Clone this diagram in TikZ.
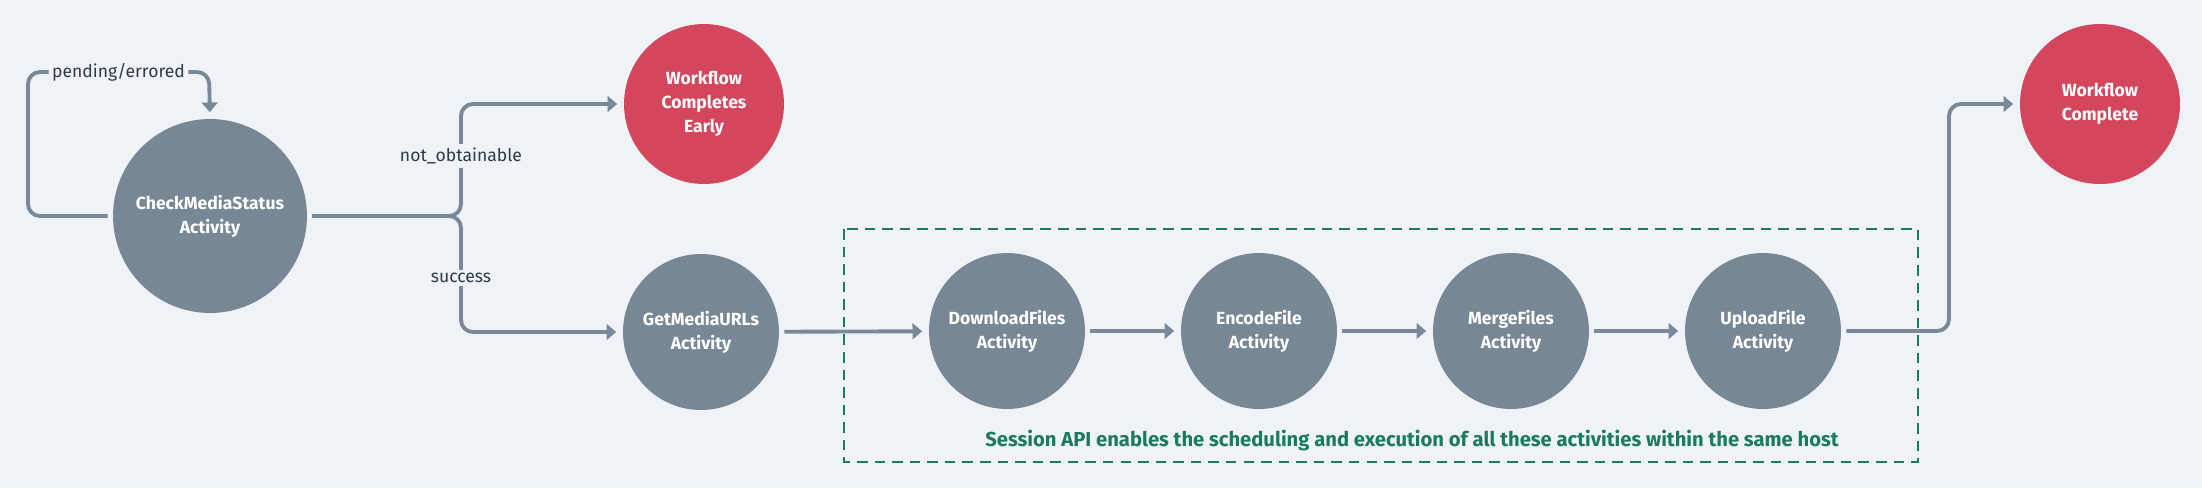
\documentclass[tikz,border=0pt]{standalone}
\usepackage{fontspec}
\setmainfont{Fira Sans}
\usepackage{tikz}
\usetikzlibrary{arrows.meta,positioning}
\definecolor{fondo}{HTML}{EFF3F7}
\definecolor{gris}{HTML}{788795}
\definecolor{linea}{HTML}{7A8998}
\definecolor{rojo}{HTML}{D3465C}
\definecolor{verde}{HTML}{1B7A60}
\definecolor{tinta}{HTML}{2E3A48}

\begin{document}
\begin{tikzpicture}[x=0.02cm,y=-0.02cm,
  act/.style={circle,fill=gris,text=white,align=center,inner sep=0pt,minimum size=3.12cm,
    font=\bfseries\fontsize{10}{13.6}\selectfont},
  fin/.style={act,fill=rojo,minimum size=3.2cm},
  lab/.style={fill=fondo,inner sep=2pt,text=tinta,font=\fontsize{10}{12}\selectfont},
  flow/.style={draw=linea,line width=2.2pt,rounded corners=0.24cm,
    -{Triangle[length=5.5pt,width=9pt]},shorten <=0.1cm,shorten >=0.13cm}]
  \fill[fondo] (0,0) rectangle (2202,488);
  \useasboundingbox (0,0) rectangle (2202,488);
  % session box
  \draw[verde,line width=1.1pt,dash pattern=on 6pt off 4pt] (844,229) rectangle (1918,462);
  \node[font=\bfseries\fontsize{11.5}{13}\selectfont,text=verde] (note) at (1412,441)
   {Session API enables the scheduling and execution of all these activities within the same host};
  % activities
  \node[act,minimum size=3.88cm] (check) at (210,216) {CheckMediaStatus\\Activity};
  \node[fin] (early) at (704,104) {Workflow\\Completes\\Early};
  \node[act] (urls) at (701,332) {GetMediaURLs\\Activity};
  \node[act] (down) at (1007,331) {DownloadFiles\\Activity};
  \node[act] (enc) at (1259,331) {EncodeFile\\Activity};
  \node[act] (merge) at (1511,331) {MergeFiles\\Activity};
  \node[act] (up) at (1763,331) {UploadFile\\Activity};
  \node[fin] (done) at (2100,104) {Workflow\\Complete};
  % connectors
  \draw[flow] (check.west) -- (28,216) -- (28,72) -- node[lab] {pending/errored} (209,72) -- (check.north);
  \draw[flow] (check.east) -- (461,216) -- (461,104) -- (early.west);
  \draw[flow] (check.east) -- (461,216) -- (461,332) -- (urls.west);
  \node[lab] (noob) at (461,156) {not\_obtainable};
  \node[lab] (succ) at (461,278) {success};
  \draw[flow] (urls) -- (down);
  \draw[flow] (down) -- (enc);
  \draw[flow] (enc) -- (merge);
  \draw[flow] (merge) -- (up);
  \draw[flow] (up.east) -- (1949,331) -- (1949,104) -- (done.west);
\end{tikzpicture}
\end{document}
